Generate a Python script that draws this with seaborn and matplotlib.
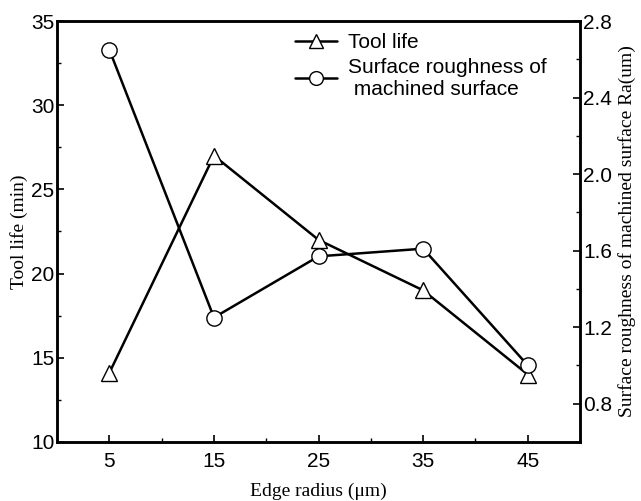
import matplotlib
matplotlib.use("Agg")
import matplotlib.pyplot as plt
import seaborn as sns
import pandas as pd
from matplotlib.ticker import MultipleLocator

# Data
edge_radius = [5, 15, 25, 35, 45]
tool_life = [14.1, 27.0, 22.0, 19.0, 14.0]
roughness = [2.65, 1.25, 1.57, 1.61, 1.00]

df = pd.DataFrame({"edge": edge_radius, "life": tool_life, "ra": roughness})

sns.set_style("ticks")
plt.rcParams["font.family"] = ["Liberation Sans", "DejaVu Sans"]
plt.rcParams["xtick.direction"] = "in"
plt.rcParams["ytick.direction"] = "in"
plt.rcParams["text.color"] = "black"
plt.rcParams["axes.labelcolor"] = "black"
plt.rcParams["xtick.color"] = "black"
plt.rcParams["ytick.color"] = "black"
plt.rcParams["axes.edgecolor"] = "black"

fig = plt.figure(figsize=(6.41, 5.01), dpi=100)
ax = fig.add_axes([0.089, 0.118, 0.816, 0.840])
ax2 = ax.twinx()

line_kw = dict(color="black", linewidth=1.8, markersize=11,
               markerfacecolor="white", markeredgecolor="black", markeredgewidth=1.0)

sns.lineplot(data=df, x="edge", y="life", ax=ax, marker="^", label="Tool life",
             legend=False, **line_kw)
sns.lineplot(data=df, x="edge", y="ra", ax=ax2, marker="o",
             label="Surface roughness of\n machined surface", legend=False, **line_kw)

# ── axes ──────────────────────────────────────────────
ax.set_xlim(0, 50)
ax.set_ylim(10, 35)
ax2.set_ylim(0.6, 2.8)
ax.set_xticks([5, 15, 25, 35, 45])
ax.xaxis.set_minor_locator(MultipleLocator(5))
ax.yaxis.set_major_locator(MultipleLocator(5))
ax.yaxis.set_minor_locator(MultipleLocator(2.5))
ax2.set_yticks([0.8, 1.2, 1.6, 2.0, 2.4, 2.8])
ax2.yaxis.set_minor_locator(MultipleLocator(0.2))
ax2.set_yticklabels(["0.8", "1.2", "1.6", "2.0", "2.4", "2.8"])

for a in (ax, ax2):
    for s in a.spines.values():
        s.set_linewidth(1.8)
    a.tick_params(which="major", length=5, width=1.2, labelsize=15, pad=2)
    a.tick_params(which="minor", length=3, width=1.0)

ax.tick_params(axis="x", pad=7)

serif = ["Liberation Serif", "DejaVu Serif"]
ax.set_xlabel("Edge radius (\u03bcm)", fontsize=14, family=serif, labelpad=9)
ax.set_ylabel("Tool life (min)", fontsize=14, family=serif, labelpad=2)
ax2.set_ylabel("Surface roughness of machined surface Ra(um)", fontsize=14,
               family=serif, labelpad=4)

# ── legend ────────────────────────────────────────────
h1, l1 = ax.get_legend_handles_labels()
h2, l2 = ax2.get_legend_handles_labels()
ax.legend(h1 + h2, l1 + l2, loc="upper left", bbox_to_anchor=(0.42, 1.015),
          frameon=False, fontsize=15, handlelength=2.0, handletextpad=0.5,
          labelspacing=0.25, markerscale=0.9)

fig.savefig("out.png", dpi=100)
